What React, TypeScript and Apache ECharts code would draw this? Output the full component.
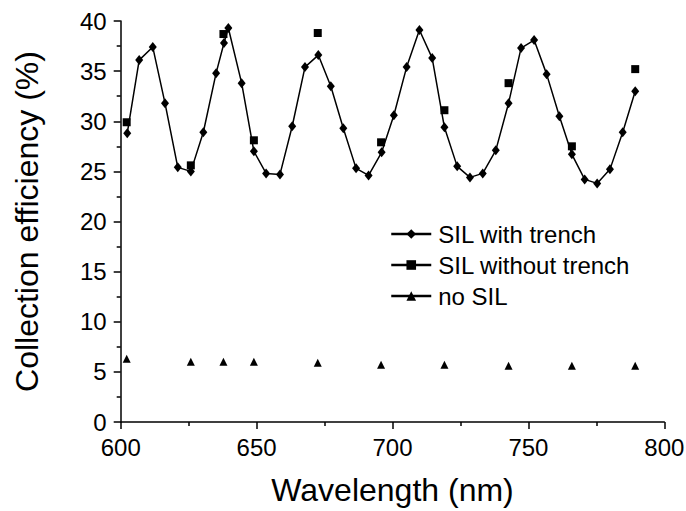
import React, { useEffect, useRef } from "react";
import * as echarts from "echarts";

const withTrenchX = [602.4, 606.8, 611.8, 616.3, 621.0, 625.8, 630.4, 635.1, 638.0, 639.6, 644.5, 649.0, 653.5, 658.6, 663.1, 667.8, 672.7, 677.3, 681.9, 686.6, 691.2, 696.0, 700.5, 705.2, 709.9, 714.6, 719.1, 723.8, 728.5, 733.2, 738.0, 742.7, 747.3, 752.1, 756.7, 761.4, 766.0, 770.7, 775.3, 780.0, 784.7, 789.3];
const withTrenchY = [28.8, 36.1, 37.4, 31.8, 25.4, 25.0, 28.9, 34.8, 37.8, 39.3, 33.8, 27.0, 24.8, 24.7, 29.5, 35.4, 36.6, 33.5, 29.3, 25.3, 24.6, 26.9, 30.6, 35.4, 39.1, 36.3, 29.4, 25.5, 24.4, 24.8, 27.1, 31.8, 37.3, 38.1, 34.7, 30.5, 26.7, 24.2, 23.8, 25.2, 28.9, 33.0];

const sampleX = [602.2, 625.8, 637.8, 649.0, 672.5, 695.8, 719.1, 742.7, 766.0, 789.3];
const withoutTrenchY = [29.9, 25.6, 38.7, 28.1, 38.8, 27.9, 31.1, 33.8, 27.5, 35.2];
const noSilY = [6.3, 6.0, 6.0, 6.0, 5.9, 5.7, 5.7, 5.6, 5.6, 5.6];

const seriesNames = ["SIL with trench", "SIL without trench", "no SIL"];
const FONT = "'Liberation Sans', Arial, sans-serif";

export default function App() {
  const ref = useRef<HTMLDivElement>(null);
  useEffect(() => {
    if (!ref.current) return;
    const chart = echarts.init(ref.current, undefined, { renderer: "svg" });
    const pair = (xs: number[], ys: number[]) => xs.map((x, i) => [x, ys[i]]);
    const axisCommon = {
      axisLine: { show: true, lineStyle: { color: "#000", width: 1.5 } },
      axisTick: { show: true, inside: false, length: 7, lineStyle: { color: "#000", width: 1.5 } },
      minorTick: { show: true, splitNumber: 2, length: 4, lineStyle: { color: "#000", width: 1.5 } },
      splitLine: { show: false },
      axisLabel: { color: "#000", fontSize: 24, fontFamily: FONT },
      nameTextStyle: { color: "#000", fontSize: 32, fontFamily: FONT },
    };
    chart.setOption({
      animation: false,
      backgroundColor: "#fff",
      textStyle: { fontFamily: FONT },
      grid: { left: 120.7, right: 21.7, top: 21, bottom: 89, outerBoundsMode: "none", containLabel: false },
      xAxis: {
        type: "value",
        min: 600,
        max: 800,
        interval: 50,
        name: "Wavelength (nm)",
        nameLocation: "middle",
        nameGap: 52,
        ...axisCommon,
        axisLabel: { ...axisCommon.axisLabel, margin: 13 },
      },
      yAxis: {
        type: "value",
        min: 0,
        max: 40,
        interval: 5,
        name: "Collection efficiency (%)",
        nameLocation: "middle",
        nameGap: 78,
        ...axisCommon,
        axisLabel: { ...axisCommon.axisLabel, margin: 14 },
      },
      legend: {
        orient: "vertical",
        left: 385,
        top: 217,
        itemWidth: 40,
        itemHeight: 12,
        itemGap: 7,
        textStyle: { color: "#000", fontSize: 24, fontFamily: FONT, padding: [0, 0, 0, 2] },
        data: [
          { name: seriesNames[0], lineStyle: { color: "#000", width: 2.5, opacity: 1 } },
          { name: seriesNames[1], lineStyle: { color: "#000", width: 2.5, opacity: 1 } },
          { name: seriesNames[2], lineStyle: { color: "#000", width: 2.5, opacity: 1 } },
        ],
      },
      series: [
        {
          name: seriesNames[0],
          type: "line",
          data: pair(withTrenchX, withTrenchY),
          symbol: "diamond",
          symbolSize: [8, 10],
          showAllSymbol: true,
          color: "#000",
          itemStyle: { color: "#000" },
          lineStyle: { color: "#000", width: 1.5 },
        },
        {
          name: seriesNames[1],
          type: "line",
          data: pair(sampleX, withoutTrenchY),
          symbol: "rect",
          symbolSize: 8,
          showAllSymbol: true,
          color: "#000",
          itemStyle: { color: "#000" },
          lineStyle: { color: "#000", width: 2, opacity: 0 },
        },
        {
          name: seriesNames[2],
          type: "line",
          data: pair(sampleX, noSilY),
          symbol: "triangle",
          symbolSize: 8,
          showAllSymbol: true,
          color: "#000",
          itemStyle: { color: "#000" },
          lineStyle: { color: "#000", width: 2, opacity: 0 },
        },
      ],
    });
    return () => chart.dispose();
  }, []);
  return <div ref={ref} style={{ width: 686, height: 511, position: "absolute", left: 0, top: 0 }} />;
}
